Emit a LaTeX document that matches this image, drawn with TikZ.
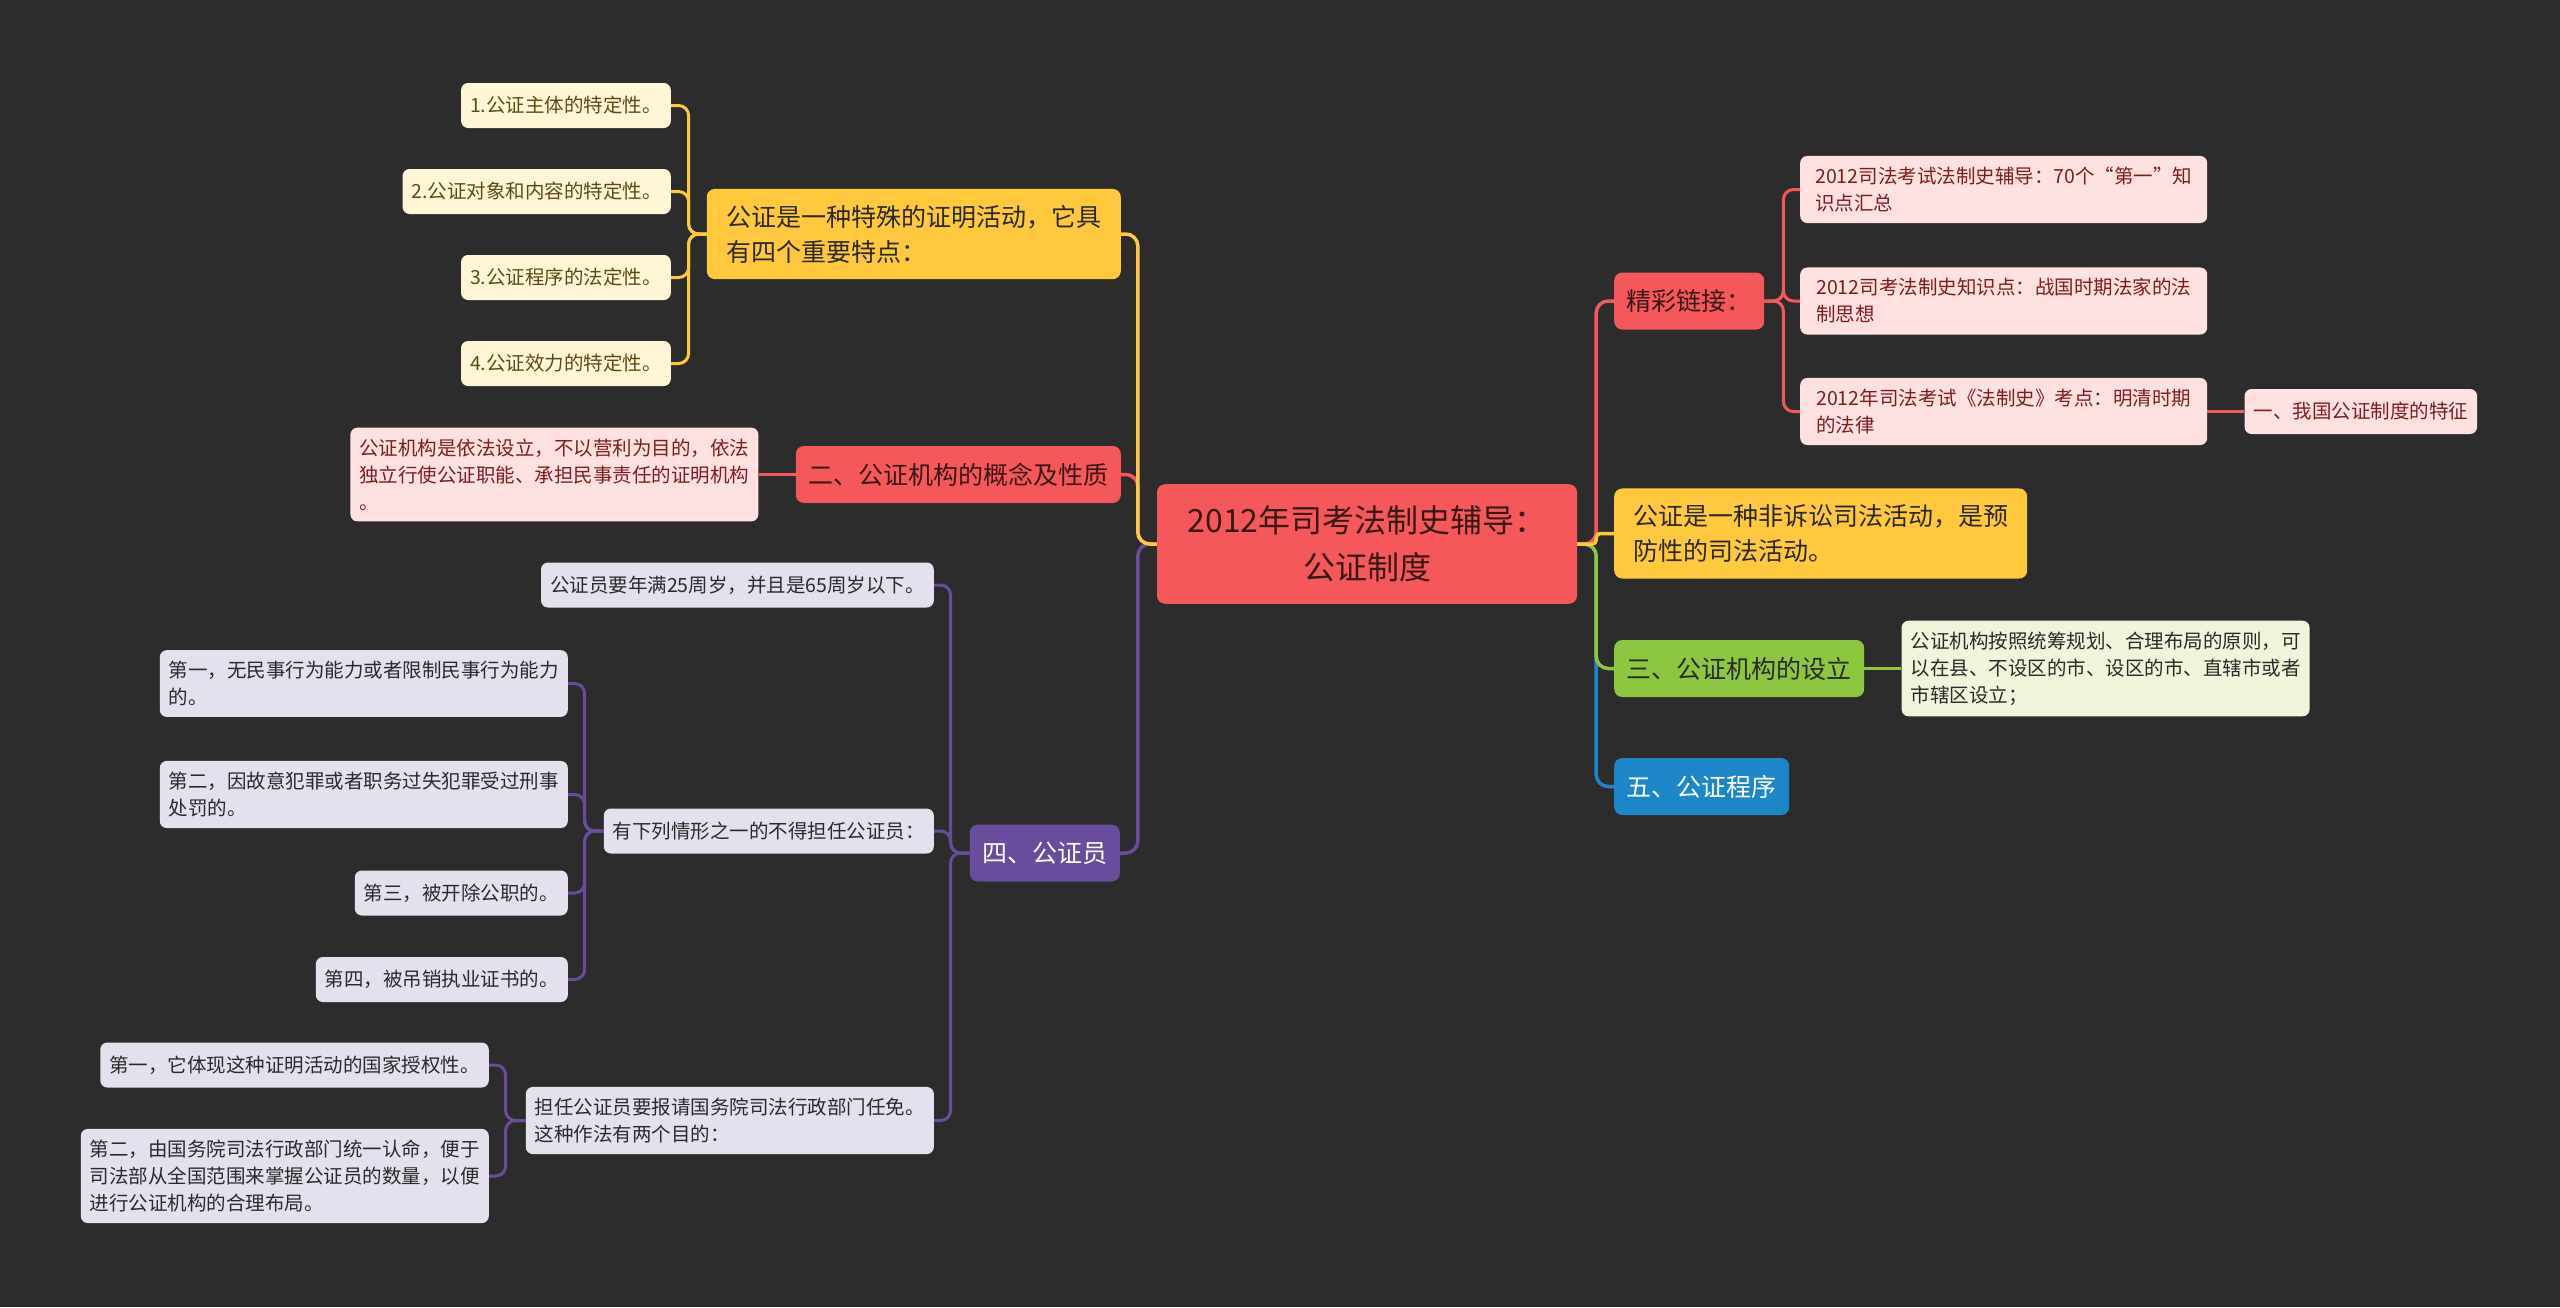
\documentclass[tikz,border=0pt]{standalone}
\usepackage{fontspec}
\setmainfont{Noto Sans CJK SC}
\usepackage{xcolor}
\usetikzlibrary{positioning}
\definecolor{bgC}{HTML}{2C2C2C}
\definecolor{redC}{HTML}{F5585A}
\definecolor{yelC}{HTML}{FFC83D}
\definecolor{purC}{HTML}{6A4C9C}
\definecolor{grnC}{HTML}{8DC63F}
\definecolor{bluC}{HTML}{1C86C8}
\definecolor{paleY}{HTML}{FFF6D8}
\definecolor{paleR}{HTML}{FFE1E2}
\definecolor{paleP}{HTML}{E5E0EE}
\definecolor{paleG}{HTML}{EEF5DA}
\definecolor{darkR}{HTML}{3A1717}
\definecolor{txtY}{HTML}{5E4B13}
\definecolor{txtR}{HTML}{7F1D1D}
\definecolor{txtD}{HTML}{2A2A2A}

\begin{document}
\begin{tikzpicture}[x=1pt, y=-1pt,
  node distance=37pt,
  hub/.style={rounded corners=8pt, align=center, fill=redC, text=darkR, font=\fontsize{32}{47}\selectfont, minimum width=420pt, inner ysep=21.5pt},
  topic/.style={rounded corners=8pt, align=left, font=\fontsize{25}{35}\selectfont, inner xsep=12.5pt, inner ysep=16pt, minimum height=57pt},
  leaf/.style={rounded corners=7pt, align=left, font=\fontsize{19.5}{27}\selectfont, inner xsep=9pt, inner ysep=11pt, minimum height=45pt},
  lnk/.style={line width=3.5pt, rounded corners=12pt},
  sublnk/.style={line width=3pt, rounded corners=10pt}
]
\fill[bgC] (0,0) rectangle (2560,1307);

\node[hub] (root) at (1367,544) {2012年司考法制史辅导：\\公证制度};

% left
\node[topic, fill=yelC, text=txtD, anchor=east, minimum width=414pt] (feat) at (1121,234) {公证是一种特殊的证明活动，它具\\有四个重要特点：};
\node[leaf, fill=paleY, text=txtY, anchor=east] (f1) at (671,105.5) {1.公证主体的特定性。};
\node[leaf, fill=paleY, text=txtY, anchor=east] (f2) at (671,191.5) {2.公证对象和内容的特定性。};
\node[leaf, fill=paleY, text=txtY, anchor=east] (f3) at (671,277.5) {3.公证程序的法定性。};
\node[leaf, fill=paleY, text=txtY, anchor=east] (f4) at (671,363.5) {4.公证效力的特定性。};

\node[topic, fill=redC, text=darkR, anchor=east] (org) at (1121,474.5) {二、公证机构的概念及性质};
\node[leaf, fill=paleR, text=txtR, left=of org] (orgdef) {公证机构是依法设立，不以营利为目的，依法\\独立行使公证职能、承担民事责任的证明机构\\。};

\node[topic, fill=purC, text=white, anchor=east] (staff) at (1120,853) {四、公证员};
\node[leaf, fill=paleP, text=txtD, anchor=east] (age) at (934,585) {公证员要年满25周岁，并且是65周岁以下。};
\node[leaf, fill=paleP, text=txtD, anchor=east] (bar) at (934,831) {有下列情形之一的不得担任公证员：};
\node[leaf, fill=paleP, text=txtD, anchor=east] (appt) at (934,1120.5) {担任公证员要报请国务院司法行政部门任免。\\这种作法有两个目的：};
\node[leaf, fill=paleP, text=txtD, anchor=east] (bar1) at (568,683.5) {第一，无民事行为能力或者限制民事行为能力\\的。};
\node[leaf, fill=paleP, text=txtD, anchor=east] (bar2) at (568,794.5) {第二，因故意犯罪或者职务过失犯罪受过刑事\\处罚的。};
\node[leaf, fill=paleP, text=txtD, anchor=east] (bar3) at (568,893) {第三，被开除公职的。};
\node[leaf, fill=paleP, text=txtD, anchor=east] (bar4) at (568,979.5) {第四，被吊销执业证书的。};
\node[leaf, fill=paleP, text=txtD, anchor=east] (appt1) at (489,1065) {第一，它体现这种证明活动的国家授权性。};
\node[leaf, fill=paleP, text=txtD, anchor=east] (appt2) at (489,1176) {第二，由国务院司法行政部门统一认命，便于\\司法部从全国范围来掌握公证员的数量，以便\\进行公证机构的合理布局。};

% right
\node[topic, fill=redC, text=darkR, anchor=west] (links) at (1614,301) {精彩链接：};
\node[leaf, fill=paleR, text=txtR, anchor=west, minimum width=407pt] (lk1) at (1800,189.5) {2012司法考试法制史辅导：70个“第一”知\\识点汇总};
\node[leaf, fill=paleR, text=txtR, anchor=west, minimum width=407pt] (lk2) at (1800,301) {2012司考法制史知识点：战国时期法家的法\\制思想};
\node[leaf, fill=paleR, text=txtR, anchor=west, minimum width=407pt] (lk3) at (1800,411.5) {2012年司法考试《法制史》考点：明清时期\\的法律};
\node[leaf, fill=paleR, text=txtR, right=of lk3] (lk3a) {一、我国公证制度的特征};

\node[topic, fill=yelC, text=txtD, anchor=west, minimum width=413pt] (nature) at (1614,533.5) {公证是一种非诉讼司法活动，是预\\防性的司法活动。};
\node[topic, fill=grnC, text=txtD, anchor=west] (setup) at (1614,668.5) {三、公证机构的设立};
\node[leaf, fill=paleG, text=txtD, right=of setup] (setupdef) {公证机构按照统筹规划、合理布局的原则，可\\以在县、不设区的市、设区的市、直辖市或者\\市辖区设立；};
\node[topic, fill=bluC, text=white, anchor=west] (proc) at (1614,786.5) {五、公证程序};

\draw[lnk, purC] (root.west) -- ++(-19,0) |- (staff.east);
\draw[lnk, redC] (root.west) -- ++(-19,0) |- (org.east);
\draw[lnk, yelC] (root.west) -- ++(-19,0) |- (feat.east);
\foreach \n in {f1,f2,f3,f4}
  \draw[sublnk, yelC] (feat.west) -- ++(-18,0) |- (\n.east);
\draw[sublnk, redC] (org.west) -- (orgdef.east);
\foreach \n in {age,bar,appt}
  \draw[sublnk, purC] (staff.west) -- ++(-19,0) |- (\n.east);
\foreach \n in {bar1,bar2,bar3,bar4}
  \draw[sublnk, purC] (bar.west) -- ++(-19,0) |- (\n.east);
\foreach \n in {appt1,appt2}
  \draw[sublnk, purC] (appt.west) -- ++(-20,0) |- (\n.east);

\draw[lnk, bluC] (root.east) -- ++(19,0) |- (proc.west);
\draw[lnk, grnC] (root.east) -- ++(19,0) |- (setup.west);
\draw[lnk, redC] (root.east) -- ++(19,0) |- (links.west);
\draw[lnk, yelC, rounded corners=4pt] (root.east) -- ++(19,0) |- (nature.west);
\foreach \n in {lk1,lk2,lk3}
  \draw[sublnk, redC] (links.east) -- ++(19,0) |- (\n.west);
\draw[sublnk, redC] (lk3.east) -- (lk3a.west);
\draw[sublnk, grnC] (setup.east) -- (setupdef.west);
\end{tikzpicture}
\end{document}
